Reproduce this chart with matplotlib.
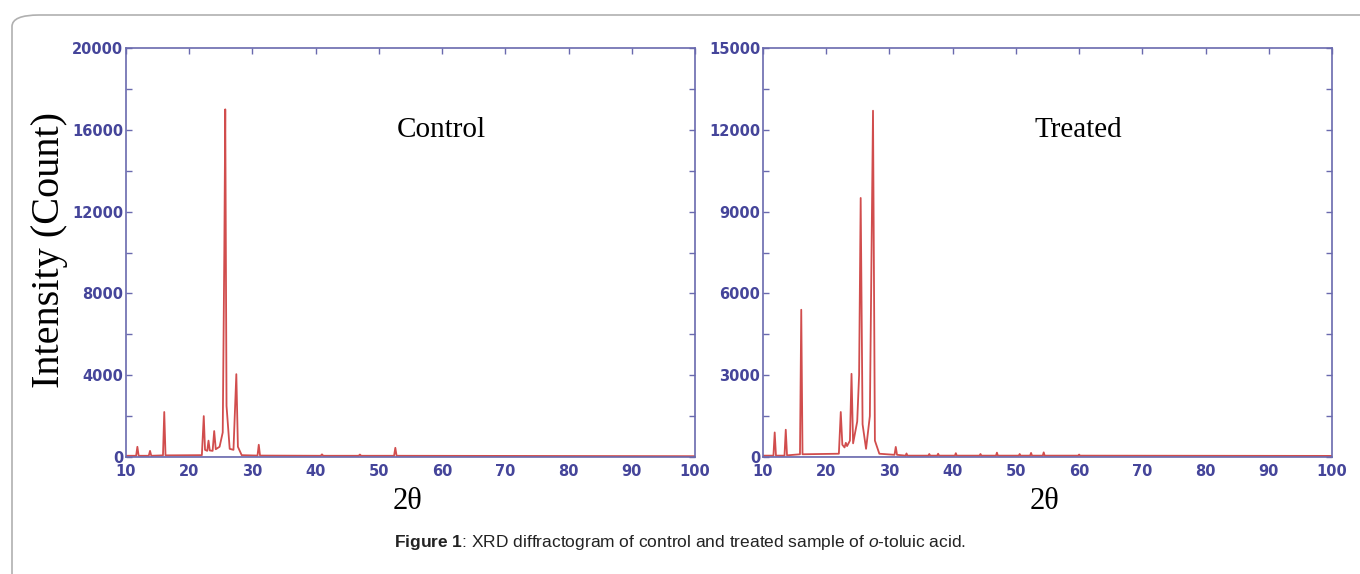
import numpy as np
import matplotlib
matplotlib.use("Agg")
import matplotlib.pyplot as plt
from matplotlib.patches import FancyBboxPatch

plt.rcParams["mathtext.fontset"] = "custom"
plt.rcParams["mathtext.rm"] = "Liberation Sans"
plt.rcParams["mathtext.bf"] = "Liberation Sans:bold"
plt.rcParams["mathtext.it"] = "Liberation Sans:italic"

# 2theta / intensity points
control_2theta = [10.0, 11.6, 11.8, 12.0, 13.6, 13.8, 14.0, 15.85, 16.05, 16.25,
                  22.0, 22.3, 22.5, 22.85, 23.05, 23.25, 23.7, 23.95, 24.2, 24.8,
                  25.3, 25.55, 25.7, 25.9, 26.4, 27.0, 27.45, 27.7, 28.3,
                  30.8, 31.0, 31.2, 40.8, 41.0, 41.2, 46.8, 47.0, 47.2,
                  52.4, 52.6, 52.8, 100.0]
control_counts = [60, 60, 500, 60, 60, 300, 60, 80, 2200, 80,
                  90, 2000, 350, 300, 800, 320, 300, 1270, 380, 500,
                  1200, 10000, 17000, 2500, 400, 350, 4050, 500, 90,
                  70, 600, 70, 60, 130, 60, 60, 120, 60,
                  60, 450, 60, 40]

# 2theta / intensity points
treated_2theta = [10.0, 11.65, 11.85, 12.05, 13.4, 13.6, 13.8, 15.85, 16.05, 16.25,
                  22.0, 22.3, 22.55, 22.9, 23.1, 23.3, 23.75, 24.0, 24.25, 24.9,
                  25.2, 25.45, 25.75, 26.3, 26.9, 27.4, 27.7, 28.4,
                  30.8, 31.0, 31.2, 32.55, 32.7, 32.85, 36.15, 36.3, 36.45,
                  37.55, 37.7, 37.85, 40.35, 40.5, 40.65, 44.25, 44.4, 44.55,
                  46.85, 47.0, 47.15, 50.45, 50.6, 50.75, 52.25, 52.4, 52.55,
                  54.25, 54.4, 54.55, 59.85, 60.0, 60.15, 100.0]
treated_counts = [50, 50, 900, 50, 50, 1000, 60, 100, 5400, 100,
                  120, 1650, 450, 350, 520, 400, 600, 3050, 500, 1300,
                  3000, 9500, 1200, 300, 1500, 12700, 600, 120,
                  80, 370, 80, 50, 130, 50, 50, 110, 50,
                  50, 120, 50, 50, 140, 50, 50, 110, 50,
                  50, 160, 50, 50, 110, 50, 50, 150, 50,
                  50, 170, 50, 50, 90, 50, 40]

panels = [
    dict(x=control_2theta, y=control_counts, ymax=20000, ystep=4000,
         label="Control", left=126),
    dict(x=treated_2theta, y=treated_counts, ymax=15000, ystep=3000,
         label="Treated", left=763),
]

W, H = 1360, 574
fig = plt.figure(figsize=(W / 100, H / 100), dpi=100)

# rounded frame around the figure
frame = FancyBboxPatch((12 / W, -0.2), 1.2, 1 - 15 / H + 0.2,
                       boxstyle="round,pad=0,rounding_size=0.02",
                       transform=fig.transFigure, facecolor="none",
                       edgecolor="#b0b0b0", linewidth=1.2, clip_on=False)
fig.patches.append(frame)

axis_col = "#6a6aae"
label_col = "#45459a"

for p in panels:
    ax = fig.add_axes([p["left"] / W, 1 - 457 / H, 569 / W, 409 / H])
    ax.plot([10, 100], [15, 15], color="#4646a8", lw=1.0)
    ax.plot(p["x"], p["y"], color="#cc3a3a", lw=1.3, alpha=0.9)
    ax.set_xlim(10, 100)
    ax.set_ylim(0, p["ymax"])
    ax.set_xticks(np.arange(10, 101, 10))
    ax.set_yticks(np.arange(0, p["ymax"] + 1, p["ystep"]))
    ax.set_yticks(np.arange(0, p["ymax"] + 1, p["ystep"] / 2), minor=True)
    ax.tick_params(axis="both", which="both", direction="in", color=axis_col,
                   labelcolor=label_col, labelsize=10.5, top=True, right=True,
                   length=4, width=1)
    ax.tick_params(axis="x", which="both", bottom=False, pad=5)
    ax.tick_params(axis="y", pad=2)
    for lab in ax.get_xticklabels() + ax.get_yticklabels():
        lab.set_fontweight("bold")
    for s in ax.spines.values():
        s.set_color(axis_col)
        s.set_linewidth(1.2)
    ax.text(0.555, 0.80, p["label"], transform=ax.transAxes, ha="center",
            va="center", family="Liberation Serif", fontsize=21)
    ax.text(0.495, -0.11, "2θ", transform=ax.transAxes, ha="center",
            va="center", family="Liberation Serif", fontsize=22)

fig.text(50 / W, 1 - 250 / H, "Intensity (Count)", rotation=90,
         ha="center", va="center", family="Liberation Serif", fontsize=29)

fig.text(0.5, 1 - 542 / H,
         r"$\bf{Figure\ 1}$: XRD diffractogram of control and treated sample of $\it{o}$-toluic acid.",
         ha="center", va="center", family="Liberation Sans", fontsize=12.5,
         color="#222222")

fig.savefig("out.png", dpi=100)
